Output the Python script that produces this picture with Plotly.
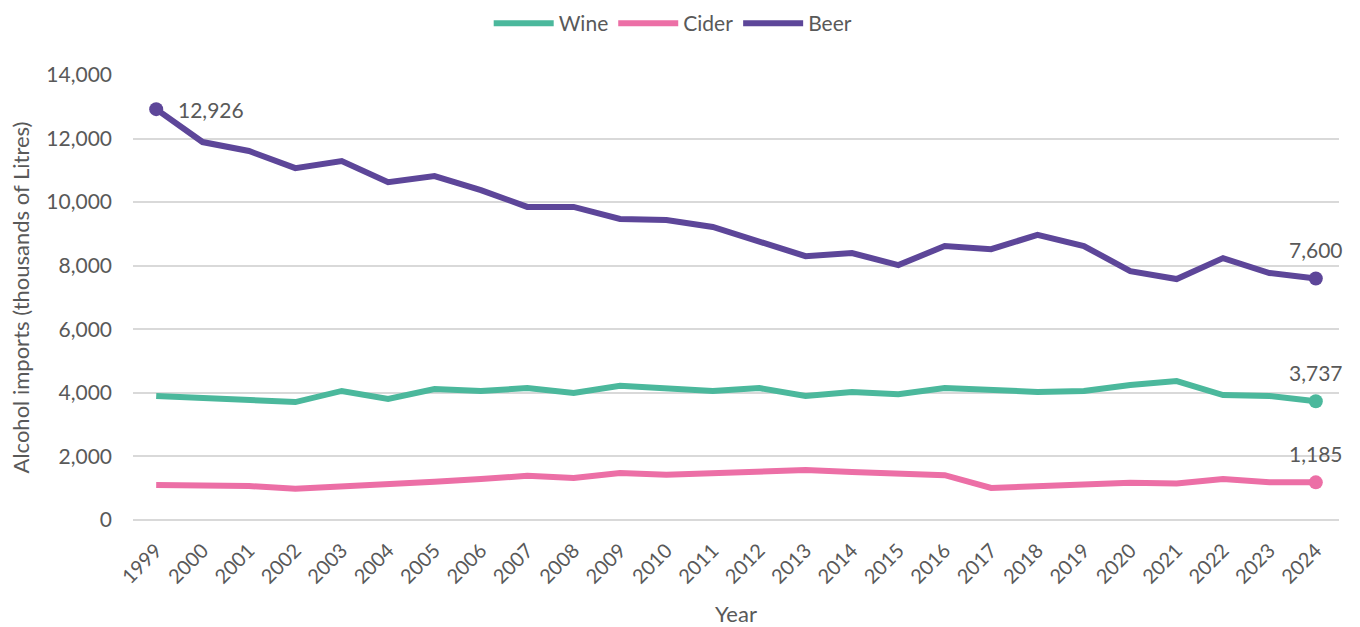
import plotly.graph_objects as go

years = [str(y) for y in range(1999, 2025)]

wine = [3900, 3840, 3740, 3710, 4060, 3810, 4120, 4060, 4150, 4000,
        4220, 4120, 4060, 4150, 3900, 4030, 3960, 4150, 4090, 4030,
        4060, 4250, 4370, 3930, 3900, 3737]
cider = [1100, 1070, 1070, 980, 1040, 1100, 1200, 1290, 1390, 1320,
         1480, 1420, 1480, 1500, 1570, 1510, 1440, 1410, 1010, 1070,
         1110, 1170, 1150, 1290, 1190, 1185]
beer = [12926, 11890, 11610, 11070, 11290, 10630, 10820, 10380, 9850, 9850,
        9470, 9440, 9220, 8780, 8300, 8400, 8020, 8620, 8520, 8970,
        8620, 7830, 7580, 8240, 7770, 7600]

LAST = len(years) - 1
# (name, values, colour, labelled point indices -> label placement)
series = [
    ("Wine", wine, "#4BB89C", {LAST: "above"}),
    ("Cider", cider, "#EC6FA6", {LAST: "above"}),
    ("Beer", beer, "#5D4699", {0: "right", LAST: "above"}),
]

FONT = "Lato, Open Sans, sans-serif"
GREY = "#595959"

fig = go.Figure()
for name, vals, color, labelled in series:
    fig.add_trace(go.Scatter(
        x=years, y=vals, name=name, mode="lines",
        line=dict(color=color, width=6),
    ))
    idx = sorted(labelled)
    fig.add_trace(go.Scatter(
        x=[years[i] for i in idx], y=[vals[i] for i in idx],
        mode="markers", showlegend=False,
        marker=dict(color=color, size=14, opacity=1, line=dict(width=0)),
        cliponaxis=False,
    ))
    for i in idx:
        if labelled[i] == "right":
            pos = dict(xanchor="left", yanchor="middle", xshift=20, yshift=0)
        else:
            pos = dict(xanchor="center", yanchor="bottom", xshift=0, yshift=14)
        fig.add_annotation(x=i, y=vals[i], xref="x", yref="y", text=f"{vals[i]:,}",
                           showarrow=False,
                           font=dict(family=FONT, size=21, color=GREY), **pos)

fig.update_layout(
    width=1360, height=627,
    margin=dict(l=133, r=21, t=75, b=107),
    paper_bgcolor="white", plot_bgcolor="white",
    font=dict(family=FONT, color=GREY, size=20),
    showlegend=True,
    legend=dict(orientation="h", x=0.495, xref="container", xanchor="center",
                y=0.995, yref="container", yanchor="top",
                font=dict(size=21, color=GREY), itemwidth=60),
    xaxis=dict(
        type="category", automargin=False,
        title=dict(text="Year", font=dict(size=22, color=GREY), standoff=22),
        tickangle=-45, tickfont=dict(size=20, color=GREY),
        showgrid=False, showline=False, ticks="", range=[-0.5, len(years) - 0.5],
        ticklabelstandoff=14,
    ),
    yaxis=dict(
        automargin=False,
        title=dict(text="Alcohol imports (thousands of Litres)", font=dict(size=22, color=GREY), standoff=10),
        range=[0, 14000], tickvals=list(range(0, 14001, 2000)),
        tickformat=",", tickfont=dict(size=21, color=GREY),
        showgrid=True, gridcolor="#D9D9D9", gridwidth=1.5,
        zeroline=True, zerolinecolor="#D9D9D9", zerolinewidth=1.5,
        ticks="", ticklabelstandoff=20,
    ),
)

fig.write_html("out.html")
